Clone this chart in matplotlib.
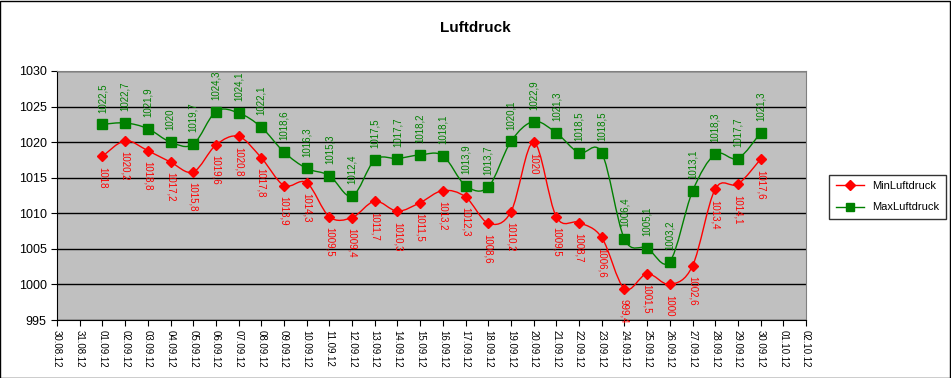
import datetime as dt
import numpy as np
import matplotlib
matplotlib.use("Agg")
import matplotlib.pyplot as plt
import matplotlib.dates as mdates
from matplotlib.path import Path
from matplotlib.patches import PathPatch, Rectangle
from matplotlib.lines import Line2D

plt.rcParams['font.family'] = ['Liberation Sans', 'DejaVu Sans']

# data
days = [dt.date(2012, 9, d) for d in range(1, 31)]
min_druck = [1018, 1020.2, 1018.8, 1017.2, 1015.8, 1019.6, 1020.8, 1017.8, 1013.9, 1014.3,
             1009.5, 1009.4, 1011.7, 1010.3, 1011.5, 1013.2, 1012.3, 1008.6, 1010.2, 1020,
             1009.5, 1008.7, 1006.6, 999.4, 1001.5, 1000, 1002.6, 1013.4, 1014.1, 1017.6]
max_druck = [1022.5, 1022.7, 1021.9, 1020, 1019.7, 1024.3, 1024.1, 1022.1, 1018.6, 1016.3,
             1015.3, 1012.4, 1017.5, 1017.7, 1018.2, 1018.1, 1013.9, 1013.7, 1020.1, 1022.9,
             1021.3, 1018.5, 1018.5, 1006.4, 1005.1, 1003.2, 1013.1, 1018.3, 1017.7, 1021.3]
x_start = dt.date(2012, 8, 30)
x_end = dt.date(2012, 10, 2)


def smooth_path(xs, ys):
    # bezier segments like Excel's smoothed line
    xs = np.asarray(xs, float)
    ys = np.asarray(ys, float)
    verts = [(xs[0], ys[0])]
    codes = [Path.MOVETO]
    n = len(xs)
    for i in range(n - 1):
        i0 = max(i - 1, 0)
        i3 = min(i + 2, n - 1)
        c1 = (xs[i] + (xs[i + 1] - xs[i0]) / 6, ys[i] + (ys[i + 1] - ys[i0]) / 6)
        c2 = (xs[i + 1] - (xs[i3] - xs[i]) / 6, ys[i + 1] - (ys[i3] - ys[i]) / 6)
        verts += [c1, c2, (xs[i + 1], ys[i + 1])]
        codes += [Path.CURVE4] * 3
    return Path(verts, codes)


def fmt(v):
    s = ('%.1f' % v).replace('.', ',')
    return s[:-2] if s.endswith(',0') else s


fig = plt.figure(figsize=(9.51, 3.78), dpi=100)
fig.patches.append(Rectangle((0.0005, 0.001), 0.998, 0.997, transform=fig.transFigure,
                             fill=False, edgecolor='black', linewidth=1))
ax = fig.add_axes([0.06, 0.1534, 0.7875, 0.6588])
ax.set_facecolor('#C0C0C0')

xn = mdates.date2num(days)
for vals, col, mk, ms in [(min_druck, '#FF0000', 'D', 5.5), (max_druck, '#008000', 's', 7)]:
    ax.add_patch(PathPatch(smooth_path(xn, vals), fill=False, edgecolor=col, linewidth=1, zorder=3))
    ax.plot(days, vals, linestyle='none', marker=mk, color=col, markersize=ms, zorder=4)

for d, v in zip(days, min_druck):
    ax.annotate(fmt(v), (d, v), xytext=(0, -7.5), textcoords='offset points', rotation=-90,
                ha='center', va='top', color='#FF0000', fontsize=7, zorder=5)
for d, v in zip(days, max_druck):
    ax.annotate(fmt(v), (d, v), xytext=(0, 8.5), textcoords='offset points', rotation=90,
                ha='center', va='bottom', color='#008000', fontsize=7, zorder=5)

ax.set_xlim(x_start, x_end)
ax.set_ylim(995, 1030)
ax.set_yticks(np.arange(995, 1031, 5))
ax.grid(axis='y', color='black', linewidth=1)
ax.set_axisbelow(True)
ax.xaxis.set_major_locator(mdates.DayLocator())
ax.xaxis.set_major_formatter(mdates.DateFormatter('%d.%m.%y'))
ax.tick_params(axis='x', labelrotation=-90, labelsize=7, length=4, direction='out')
ax.tick_params(axis='y', labelsize=9, length=4, direction='out')
for lab in ax.get_xticklabels():
    lab.set_ha('center')
for s in ['top', 'right']:
    ax.spines[s].set_color('#808080')
for s in ['left', 'bottom']:
    ax.spines[s].set_color('black')

fig.suptitle('Luftdruck', x=0.5, y=0.945, fontsize=11, fontweight='bold')

handles = [Line2D([], [], color='#FF0000', marker='D', markersize=5, linewidth=1),
           Line2D([], [], color='#008000', marker='s', markersize=6, linewidth=1)]
leg = fig.legend(handles, ['MinLuftdruck', 'MaxLuftdruck'], loc='center left',
                 bbox_to_anchor=(0.866, 0.479), fontsize=8, frameon=True, fancybox=False,
                 edgecolor='black', handlelength=2.5, borderpad=0.6, labelspacing=1.0)
leg.get_frame().set_linewidth(1)

fig.savefig('out.png', dpi=100)
